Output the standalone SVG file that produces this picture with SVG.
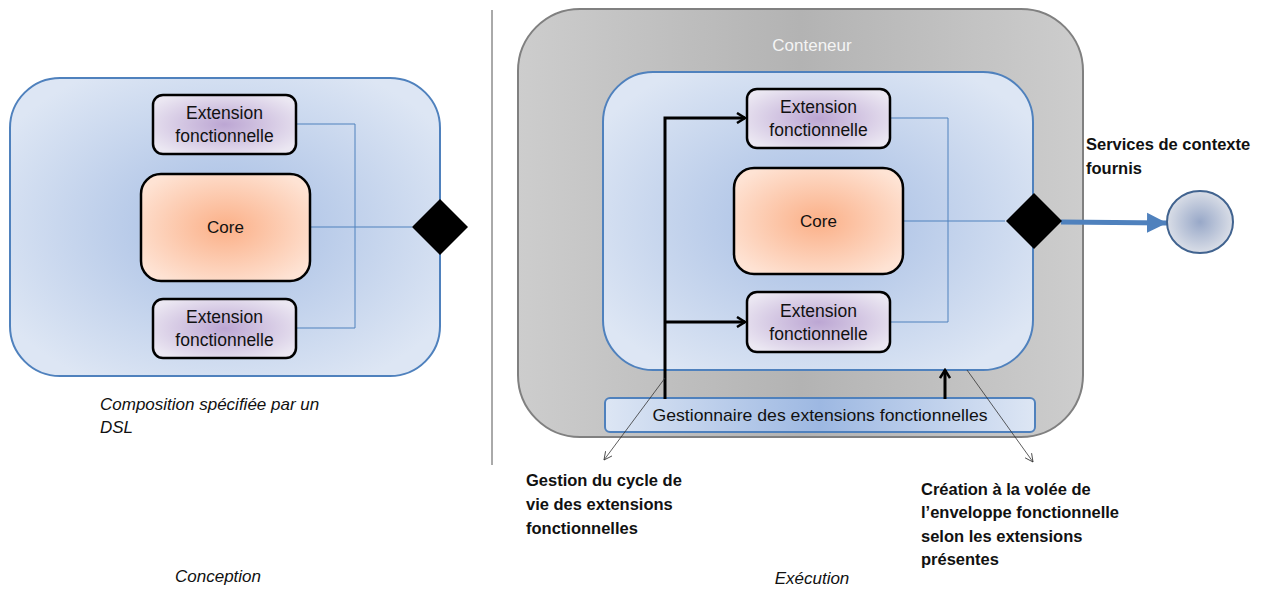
<svg xmlns="http://www.w3.org/2000/svg" width="1263" height="590" viewBox="0 0 1263 590">
<style>
.t{font-family:"Liberation Sans",Arial,sans-serif;fill:#111}
.ext{fill:url(#gExt);stroke:#000;stroke-width:2.5}
.core{fill:url(#gCore);stroke:#000;stroke-width:2.5}
.env{fill:url(#gEnv);stroke:#4f81bd;stroke-width:2}
.thin{stroke:#4f81bd;stroke-width:1;fill:none}
.blk{stroke:#000;stroke-width:3;fill:none}
.call{stroke:#333;stroke-width:0.8;fill:none}
.b{font-weight:bold;font-size:16.5px}
.i{font-style:italic;font-size:17px}
</style>
<defs>
<radialGradient id="gEnv" cx="50%" cy="50%" r="60%"><stop offset="0" stop-color="#a4bce3"/><stop offset="1" stop-color="#dde6f4"/></radialGradient>
<radialGradient id="gExt" cx="50%" cy="50%" r="60%"><stop offset="0" stop-color="#bca6d3"/><stop offset="1" stop-color="#ebe7f2"/></radialGradient>
<radialGradient id="gCore" cx="50%" cy="50%" r="60%"><stop offset="0" stop-color="#fbb088"/><stop offset="1" stop-color="#fee3d4"/></radialGradient>
<linearGradient id="gGray" x1="0" y1="0" x2="1" y2="0"><stop offset="0" stop-color="#cdcdcd"/><stop offset="0.5" stop-color="#b3b3b3"/><stop offset="1" stop-color="#cdcdcd"/></linearGradient>
<linearGradient id="gBar" x1="0" y1="0" x2="1" y2="0"><stop offset="0" stop-color="#dde6f4"/><stop offset="0.5" stop-color="#9db8e2"/><stop offset="1" stop-color="#dde6f4"/></linearGradient>
<radialGradient id="gCirc" cx="50%" cy="50%" r="55%"><stop offset="0" stop-color="#98a8c8"/><stop offset="1" stop-color="#e0e3ea"/></radialGradient>
<marker id="mOpen" markerWidth="12" markerHeight="12" refX="10" refY="6" orient="auto" markerUnits="userSpaceOnUse"><path d="M2,1 L10,6 L2,11" fill="none" stroke="#000" stroke-width="2.5"/></marker>
<marker id="mSmall" markerWidth="10" markerHeight="10" refX="9" refY="5" orient="auto" markerUnits="userSpaceOnUse"><path d="M1,1 L9,5 L1,9" fill="none" stroke="#333" stroke-width="0.8"/></marker>
<marker id="mBlue" markerWidth="22" markerHeight="22" refX="20" refY="11" orient="auto" markerUnits="userSpaceOnUse"><path d="M0,1 L20,11 L0,21 Z" fill="#4f81bd"/></marker>
</defs>
<rect width="1263" height="590" fill="#fff"/>

<!-- Left: Conception -->
<g id="envelope-left"><rect class="env" x="10" y="78" width="430" height="298" rx="50"/></g>
<g id="connectors-left">
<polyline class="thin" points="296,124 355,124 355,328 296,328"/>
<line class="thin" x1="310" y1="227" x2="412" y2="227"/>
</g>
<g id="ext-left-top"><rect class="ext" x="153" y="95" width="143" height="59" rx="10"/>
<text class="t" x="224.5" y="119" font-size="17.5" text-anchor="middle">Extension</text>
<text class="t" x="224.5" y="142" font-size="17.5" text-anchor="middle">fonctionnelle</text></g>
<g id="core-left"><rect class="core" x="141" y="174" width="169" height="107" rx="20"/>
<text class="t" x="225.5" y="233" font-size="17" text-anchor="middle">Core</text></g>
<g id="ext-left-bottom"><rect class="ext" x="153" y="299" width="143" height="59" rx="10"/>
<text class="t" x="224.5" y="323" font-size="17.5" text-anchor="middle">Extension</text>
<text class="t" x="224.5" y="346" font-size="17.5" text-anchor="middle">fonctionnelle</text></g>
<g id="port-left"><polygon points="412,227 440,199 468,227 440,255" fill="#000"/></g>
<g id="label-composition"><text class="t i" x="100" y="410">Composition spécifiée par un</text>
<text class="t i" x="100" y="433">DSL</text></g>
<g id="label-conception"><text class="t i" x="218" y="582" text-anchor="middle">Conception</text></g>

<g id="divider"><line x1="492" y1="10" x2="492" y2="465" stroke="#555" stroke-width="1"/></g>

<!-- Right: Exécution -->
<g id="conteneur"><rect x="518" y="9" width="565" height="428" rx="62" fill="url(#gGray)" stroke="#808080" stroke-width="2"/>
<text x="812" y="51" font-family="Liberation Sans,Arial,sans-serif" font-size="17" fill="#f4f4f4" text-anchor="middle">Conteneur</text></g>
<g id="envelope-right"><rect class="env" x="603" y="72" width="430" height="298" rx="50"/></g>
<g id="gestionnaire"><rect x="605" y="398" width="430" height="34" rx="5" fill="url(#gBar)" stroke="#4f81bd" stroke-width="2"/>
<text class="t" x="820" y="421" font-size="17" text-anchor="middle" textLength="335" lengthAdjust="spacingAndGlyphs">Gestionnaire des extensions fonctionnelles</text></g>
<g id="connectors-right">
<polyline class="thin" points="890,118 948,118 948,322 890,322"/>
<line class="thin" x1="903" y1="221" x2="1005" y2="221"/>
<polyline class="blk" points="665,399 665,118 745,118" marker-end="url(#mOpen)"/>
<line class="blk" x1="665" y1="322" x2="745" y2="322" marker-end="url(#mOpen)"/>
<line class="blk" x1="945" y1="399" x2="945" y2="370" marker-end="url(#mOpen)"/>
<line x1="1061" y1="222" x2="1167" y2="223" stroke="#4f81bd" stroke-width="5" marker-end="url(#mBlue)"/>
<line class="call" x1="665" y1="378" x2="604" y2="460" marker-end="url(#mSmall)"/>
<line class="call" x1="967" y1="370" x2="1033" y2="462" marker-end="url(#mSmall)"/>
</g>
<g id="ext-right-top"><rect class="ext" x="747" y="89" width="143" height="59" rx="10"/>
<text class="t" x="818.5" y="113" font-size="17.5" text-anchor="middle">Extension</text>
<text class="t" x="818.5" y="136" font-size="17.5" text-anchor="middle">fonctionnelle</text></g>
<g id="core-right"><rect class="core" x="734" y="168" width="169" height="106" rx="20"/>
<text class="t" x="818.5" y="227" font-size="17" text-anchor="middle">Core</text></g>
<g id="ext-right-bottom"><rect class="ext" x="747" y="292" width="143" height="60" rx="10"/>
<text class="t" x="818.5" y="317" font-size="17.5" text-anchor="middle">Extension</text>
<text class="t" x="818.5" y="340" font-size="17.5" text-anchor="middle">fonctionnelle</text></g>
<g id="port-right"><polygon points="1006,221 1034,193 1062,221 1034,249" fill="#000"/></g>
<g id="service"><ellipse cx="1200" cy="222" rx="33" ry="31" fill="url(#gCirc)" stroke="#41638f" stroke-width="2"/></g>
<g id="label-services"><text class="t b" x="1086" y="150">Services de contexte</text>
<text class="t b" x="1086" y="174">fournis</text></g>
<g id="label-gestion"><text class="t b" x="526" y="486">Gestion du cycle de</text>
<text class="t b" x="526" y="510">vie des extensions</text>
<text class="t b" x="526" y="534">fonctionnelles</text></g>
<g id="label-creation"><text class="t b" x="921" y="495">Création à la volée de</text>
<text class="t b" x="921" y="518">l’enveloppe fonctionnelle</text>
<text class="t b" x="921" y="542">selon les extensions</text>
<text class="t b" x="921" y="565">présentes</text></g>
<g id="label-execution"><text class="t i" x="812" y="584" text-anchor="middle">Exécution</text></g>
</svg>
